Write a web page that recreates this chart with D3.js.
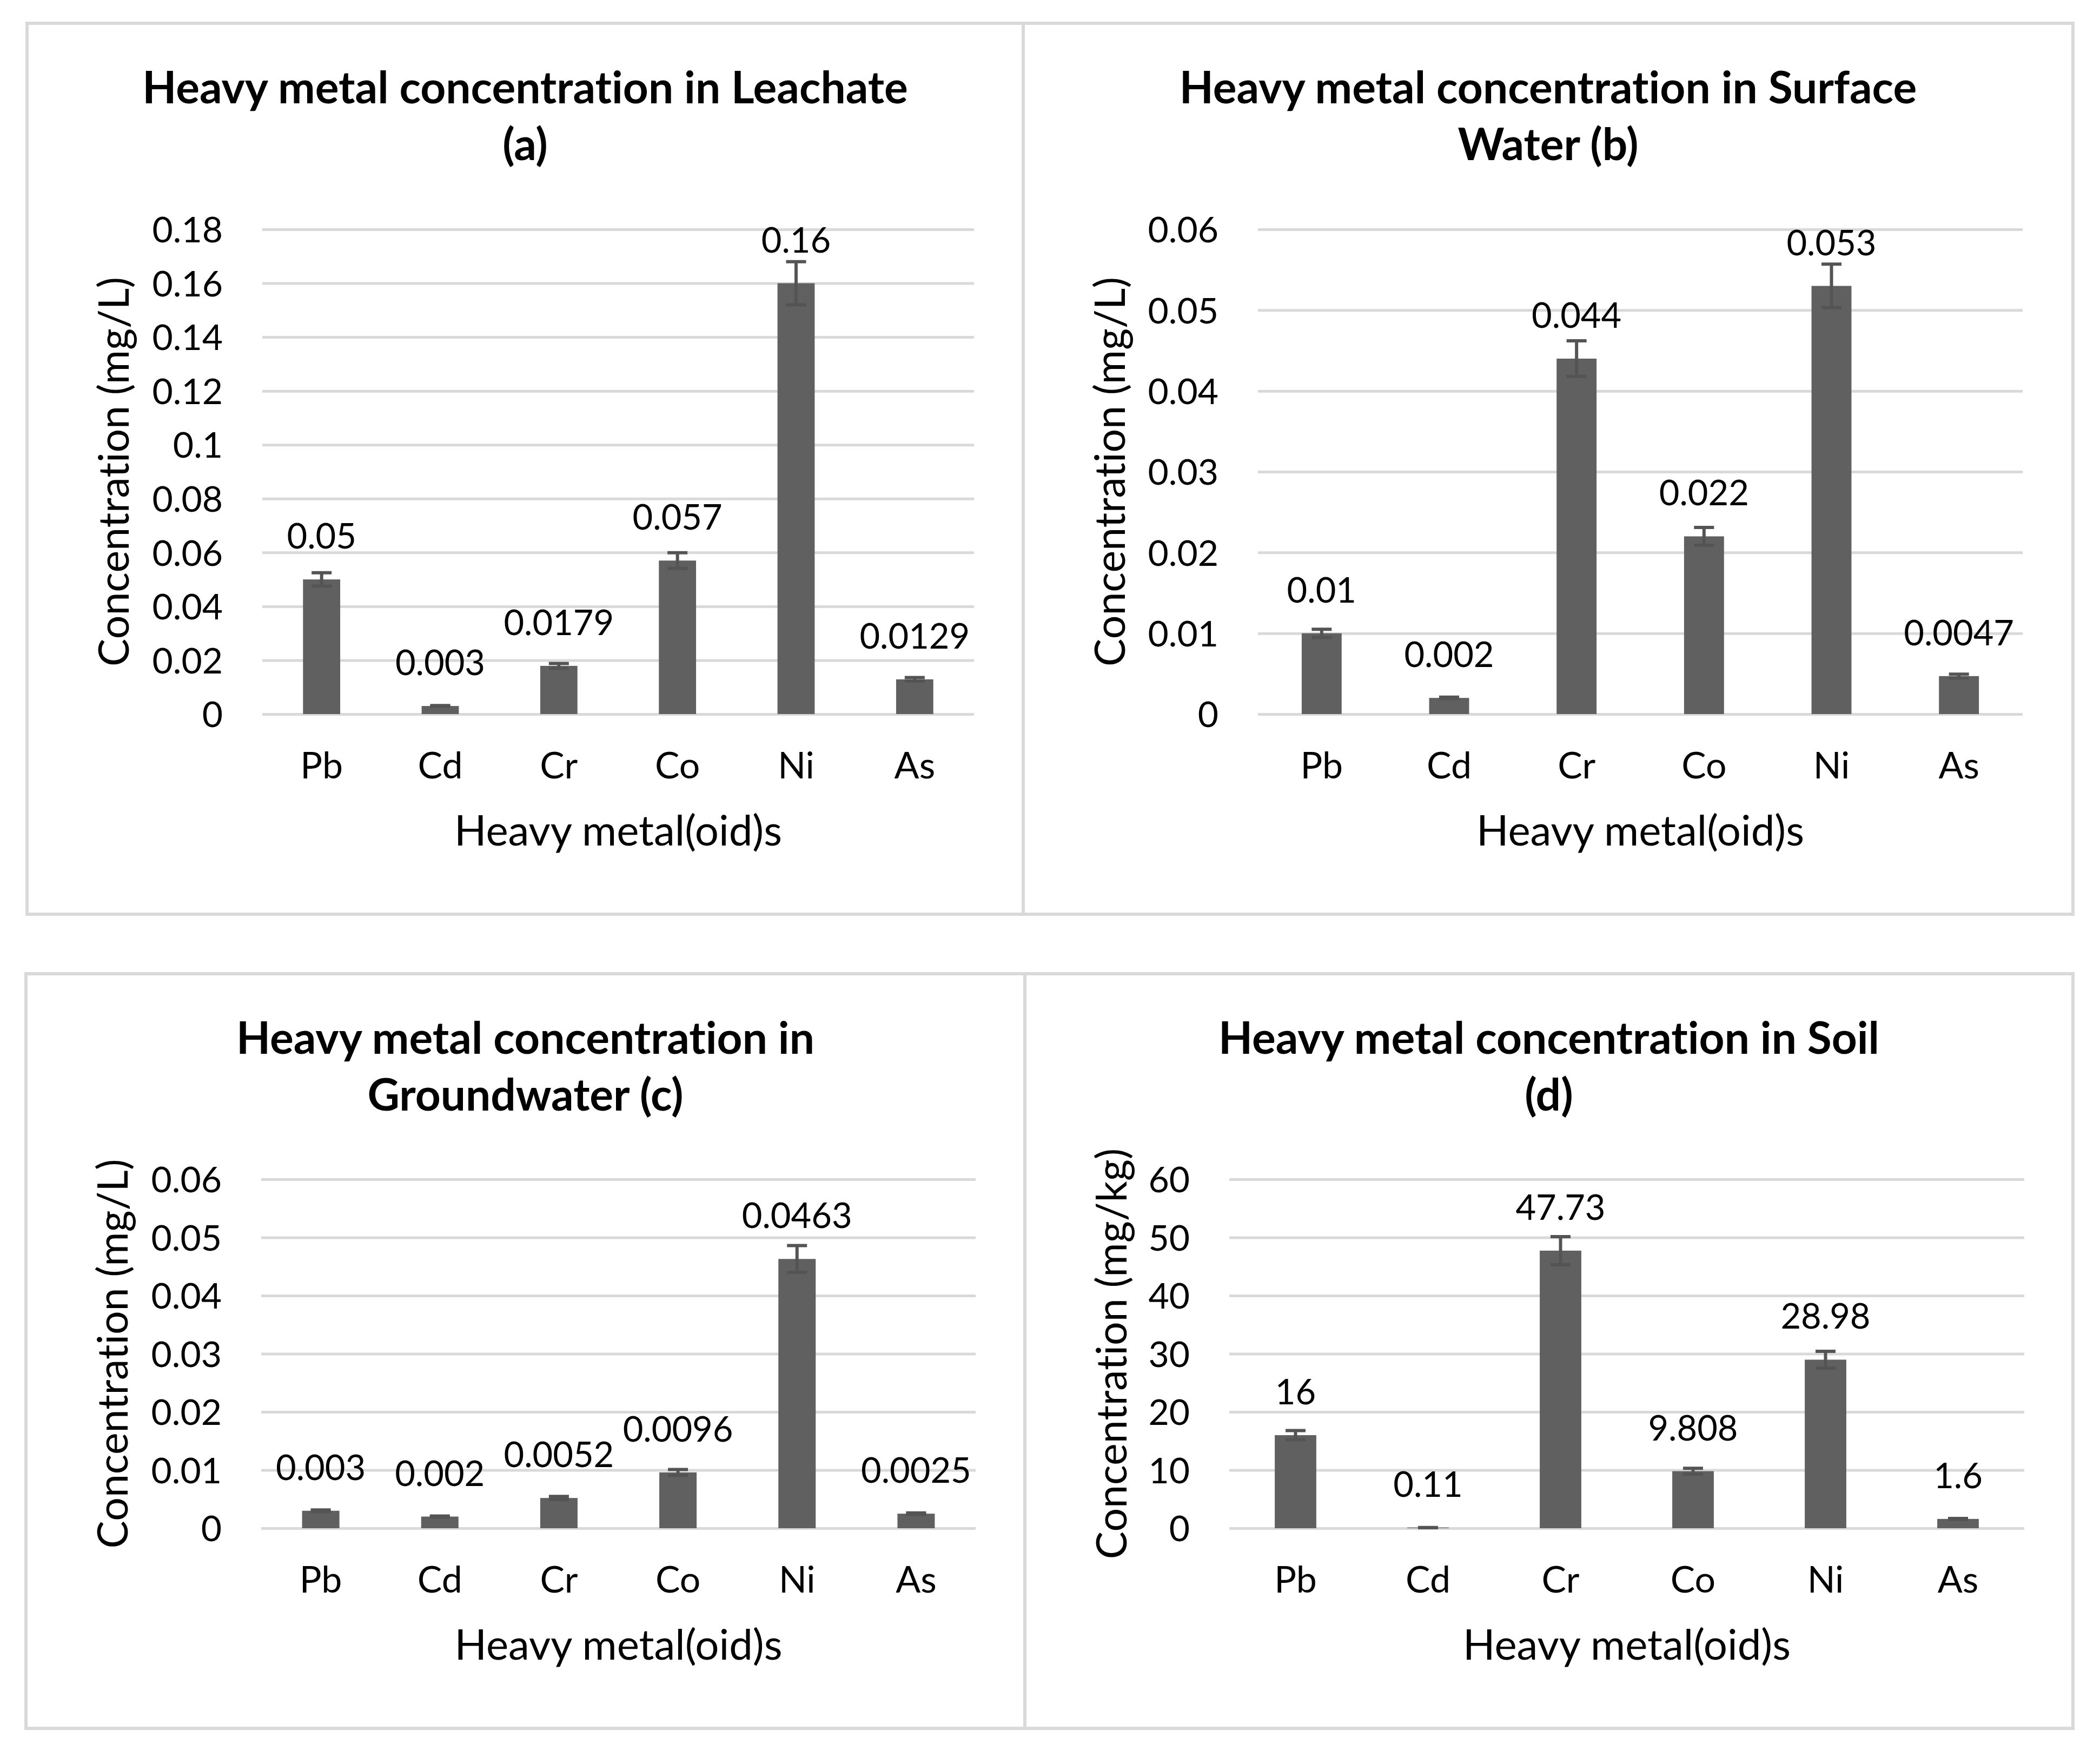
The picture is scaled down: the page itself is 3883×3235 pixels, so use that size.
<!DOCTYPE html>
<html>
<head>
<meta charset="utf-8">
<script src="https://cdn.jsdelivr.net/npm/d3@7"></script>
<style>
  html, body { margin: 0; padding: 0; background: #ffffff; }
  svg { display: block; }
  text { font-variant-ligatures: none; font-feature-settings: "liga" 0; }
</style>
</head>
<body>
<svg id="chart" width="3883" height="3235"></svg>
<script>
// ---------------- DATA ----------------
const metals = ["Pb", "Cd", "Cr", "Co", "Ni", "As"];

const leachateValues = [0.05, 0.003, 0.0179, 0.057, 0.16, 0.0129];
const leachateErrors = [0.0025, 0.00015, 0.0009, 0.0029, 0.008, 0.00065];
const leachateLabels = ["0.05", "0.003", "0.0179", "0.057", "0.16", "0.0129"];
const leachateTicks = [0, 0.02, 0.04, 0.06, 0.08, 0.1, 0.12, 0.14, 0.16, 0.18];
const leachateTickLabels = ["0", "0.02", "0.04", "0.06", "0.08", "0.1", "0.12", "0.14", "0.16", "0.18"];

const surfaceValues = [0.01, 0.002, 0.044, 0.022, 0.053, 0.0047];
const surfaceErrors = [0.0005, 0.0001, 0.0022, 0.0011, 0.0027, 0.00024];
const surfaceLabels = ["0.01", "0.002", "0.044", "0.022", "0.053", "0.0047"];
const surfaceTicks = [0, 0.01, 0.02, 0.03, 0.04, 0.05, 0.06];
const surfaceTickLabels = ["0", "0.01", "0.02", "0.03", "0.04", "0.05", "0.06"];

const groundValues = [0.003, 0.002, 0.0052, 0.0096, 0.0463, 0.0025];
const groundErrors = [0.00015, 0.0001, 0.00026, 0.0005, 0.0023, 0.00013];
const groundLabels = ["0.003", "0.002", "0.0052", "0.0096", "0.0463", "0.0025"];
const groundTicks = [0, 0.01, 0.02, 0.03, 0.04, 0.05, 0.06];
const groundTickLabels = ["0", "0.01", "0.02", "0.03", "0.04", "0.05", "0.06"];

const soilValues = [16, 0.11, 47.73, 9.808, 28.98, 1.6];
const soilErrors = [0.8, 0.006, 2.4, 0.5, 1.45, 0.08];
const soilLabels = ["16", "0.11", "47.73", "9.808", "28.98", "1.6"];
const soilTicks = [0, 10, 20, 30, 40, 50, 60];
const soilTickLabels = ["0", "10", "20", "30", "40", "50", "60"];

const titlesA = ["Heavy metal concentration in Leachate", "(a)"];
const titlesB = ["Heavy metal concentration in Surface", "Water (b)"];
const titlesC = ["Heavy metal concentration in", "Groundwater (c)"];
const titlesD = ["Heavy metal concentration in Soil", "(d)"];
const xAxisTitle = "Heavy metal(oid)s";
const yTitleL = "Concentration (mg/L)";
const yTitleKg = "Concentration (mg/kg)";

// ---------------- LAYOUT ----------------
const FONT = "Lato, 'Open Sans', 'DejaVu Sans', sans-serif";
const BAR = "#606060";
const ERR = "#545454";
const GRID = "#d9d9d9";

const panels = [
  { box: [50, 43, 1892, 1690], plot: [485, 424, 1801, 1320], max: 0.18,
    values: leachateValues, errors: leachateErrors, labels: leachateLabels,
    ticks: leachateTicks, tickLabels: leachateTickLabels, title: titlesA, yTitle: yTitleL },
  { box: [1892, 43, 3833, 1690], plot: [2326, 424, 3740, 1320], max: 0.06,
    values: surfaceValues, errors: surfaceErrors, labels: surfaceLabels,
    ticks: surfaceTicks, tickLabels: surfaceTickLabels, title: titlesB, yTitle: yTitleL },
  { box: [48, 1800, 1895, 3195], plot: [483, 2180, 1804, 2825], max: 0.06,
    values: groundValues, errors: groundErrors, labels: groundLabels,
    ticks: groundTicks, tickLabels: groundTickLabels, title: titlesC, yTitle: yTitleL },
  { box: [1895, 1800, 3833, 3195], plot: [2273, 2180, 3743, 2825], max: 60,
    values: soilValues, errors: soilErrors, labels: soilLabels,
    ticks: soilTicks, tickLabels: soilTickLabels, title: titlesD, yTitle: yTitleKg }
];

const svg = d3.select("#chart");
svg.append("rect").attr("x", 0).attr("y", 0).attr("width", 3883).attr("height", 3235).attr("fill", "#ffffff");

panels.forEach(p => {
  const [bx0, by0, bx1, by1] = p.box;
  const [px0, py0, px1, py1] = p.plot;
  const g = svg.append("g");

  // panel border
  g.append("rect")
    .attr("x", bx0).attr("y", by0)
    .attr("width", bx1 - bx0).attr("height", by1 - by0)
    .attr("fill", "none").attr("stroke", GRID).attr("stroke-width", 6);

  const x = d3.scaleBand().domain(metals).range([px0, px1]).padding(0);
  const y = d3.scaleLinear().domain([0, p.max]).range([py1, py0]);
  const bw = x.bandwidth() / 3.19;

  // y axis with gridlines
  const yAxis = d3.axisLeft(y)
    .tickValues(p.ticks)
    .tickFormat((d, i) => p.tickLabels[i])
    .tickSizeInner(-(px1 - px0))
    .tickSizeOuter(0)
    .tickPadding(73);
  const ya = g.append("g").attr("transform", `translate(${px0},0)`).call(yAxis);
  ya.select(".domain").remove();
  ya.selectAll(".tick line").attr("stroke", GRID).attr("stroke-width", 5);
  ya.selectAll(".tick text")
    .attr("font-family", FONT).attr("font-size", 66).attr("fill", "#000")
    .attr("dy", "0.36em");

  // x axis labels
  const xAxis = d3.axisBottom(x).tickSize(0).tickPadding(0);
  const xa = g.append("g").attr("transform", `translate(0,${py1})`).call(xAxis);
  xa.select(".domain").remove();
  xa.selectAll(".tick text")
    .attr("font-family", FONT).attr("font-size", 68).attr("fill", "#000")
    .attr("y", 119).attr("dy", 0);

  // bars
  g.append("g").selectAll("rect")
    .data(p.values)
    .join("rect")
    .attr("x", (d, i) => x(metals[i]) + x.bandwidth() / 2 - bw / 2)
    .attr("y", d => y(d))
    .attr("width", bw)
    .attr("height", d => y(0) - y(d))
    .attr("fill", BAR);

  // error bars
  const eg = g.append("g").attr("stroke", ERR).attr("stroke-width", 6).attr("fill", "none");
  p.values.forEach((v, i) => {
    const cx = x(metals[i]) + x.bandwidth() / 2;
    const e = p.errors[i];
    const yt = y(v + e), yb = y(v - e);
    eg.append("line").attr("x1", cx).attr("x2", cx).attr("y1", yt).attr("y2", yb);
    eg.append("line").attr("x1", cx - 18.5).attr("x2", cx + 18.5).attr("y1", yt).attr("y2", yt);
    eg.append("line").attr("x1", cx - 18.5).attr("x2", cx + 18.5).attr("y1", yb).attr("y2", yb);
  });

  // data labels
  g.append("g").selectAll("text")
    .data(p.values)
    .join("text")
    .attr("x", (d, i) => x(metals[i]) + x.bandwidth() / 2)
    .attr("y", d => y(d) - 57)
    .attr("text-anchor", "middle")
    .attr("font-family", FONT).attr("font-size", 65).attr("fill", "#000")
    .text((d, i) => p.labels[i]);

  // title
  const tcx = (bx0 + bx1) / 2;
  p.title.forEach((t, k) => {
    g.append("text")
      .attr("x", tcx).attr("y", by0 + 148 + k * 105)
      .attr("text-anchor", "middle")
      .attr("font-family", FONT).attr("font-weight", "bold").attr("font-size", 82)
      .attr("fill", "#000")
      .text(t);
  });

  // x axis title
  g.append("text")
    .attr("x", (px0 + px1) / 2).attr("y", py1 + 243)
    .attr("text-anchor", "middle")
    .attr("font-family", FONT).attr("font-size", 78).attr("fill", "#000")
    .text(xAxisTitle);

  // y axis title
  const yx = bx0 + 188, yy = (py0 + py1) / 2;
  g.append("text")
    .attr("transform", `translate(${yx},${yy}) rotate(-90)`)
    .attr("text-anchor", "middle")
    .attr("font-family", FONT).attr("font-size", 77).attr("fill", "#000")
    .text(p.yTitle);
});
</script>
</body>
</html>
